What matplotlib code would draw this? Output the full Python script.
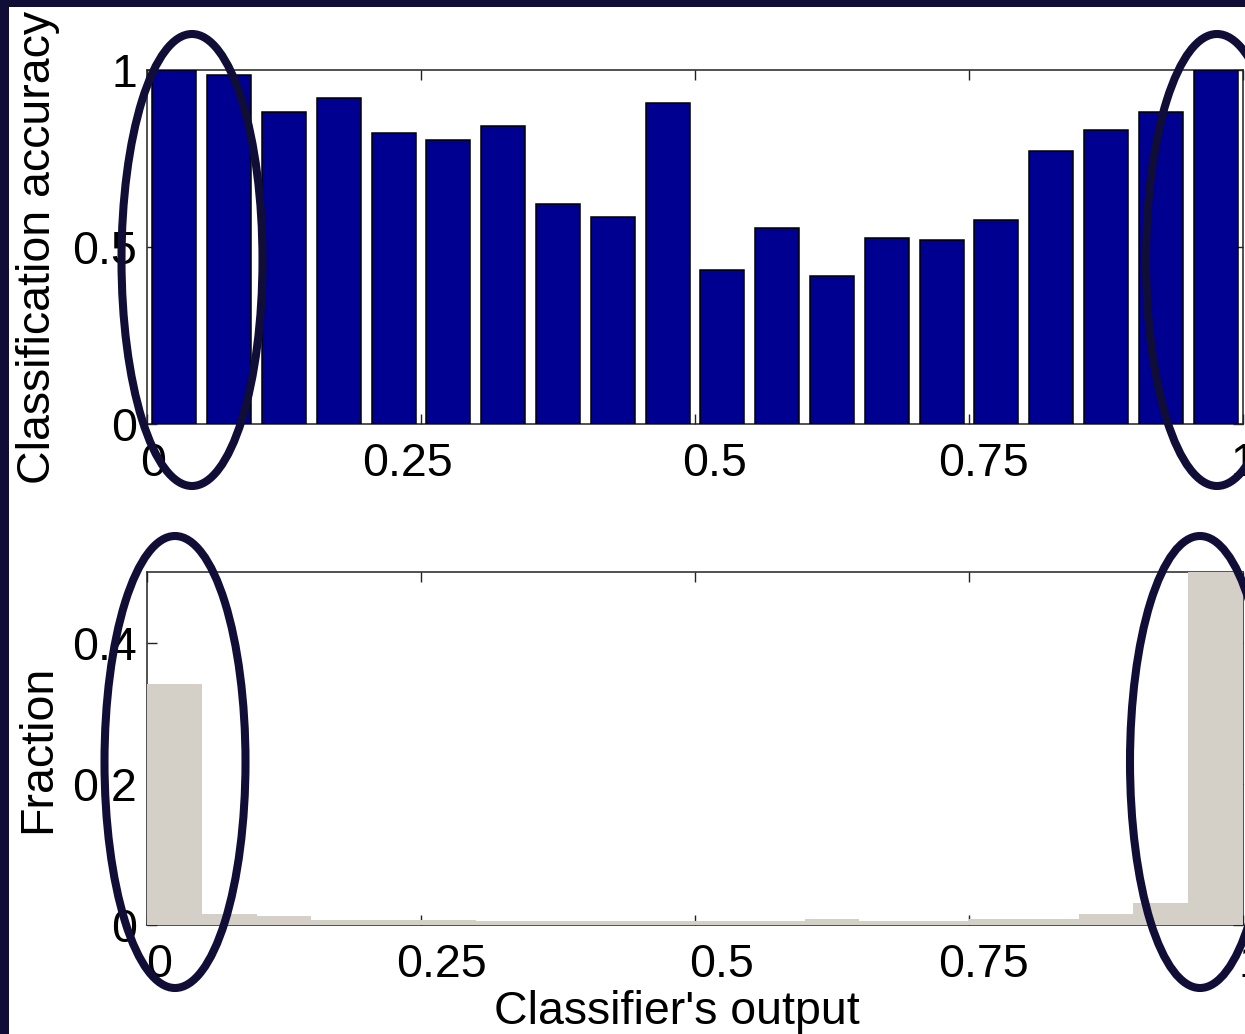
import matplotlib
matplotlib.use("Agg")
from matplotlib import pyplot as plt
from matplotlib.patches import Ellipse, Rectangle
from matplotlib.transforms import ScaledTranslation

plt.rcParams['font.family'] = ['Liberation Sans', 'DejaVu Sans']

# classifier output bins (width 0.05)
bin_centers = [0.025, 0.075, 0.125, 0.175, 0.225, 0.275, 0.325, 0.375, 0.425, 0.475,
               0.525, 0.575, 0.625, 0.675, 0.725, 0.775, 0.825, 0.875, 0.925, 0.975]
accuracy = [1.0, 0.985, 0.88, 0.921, 0.821, 0.802, 0.841, 0.621, 0.586, 0.907,
            0.435, 0.555, 0.419, 0.525, 0.521, 0.575, 0.771, 0.831, 0.88, 1.0]
fraction = [0.342, 0.016, 0.013, 0.0075, 0.0075, 0.0075, 0.0055, 0.0055, 0.0055, 0.0055,
            0.0055, 0.0055, 0.008, 0.006, 0.006, 0.008, 0.008, 0.016, 0.031, 0.5]

x_ticks = [0, 0.25, 0.5, 0.75, 1]
x_tick_labels = ['0', '0.25', '0.5', '0.75', '1']
acc_ticks = [0, 0.5, 1]
acc_tick_labels = ['0', '0.5', '1']
frac_ticks = [0, 0.2, 0.4]
frac_tick_labels = ['0', '0.2', '0.4']

navy = '#000090'
grey = '#d4d0c8'
ink = '#100d36'
fs = 33.5

fig = plt.figure(figsize=(12.45, 10.34), dpi=100, facecolor=ink)
fig.add_artist(Rectangle((9 / 1245, 0), 1, 1 - 7 / 1034, transform=fig.transFigure,
                         facecolor='white', edgecolor='none', zorder=-10))

ax1 = fig.add_axes([147 / 1245, 1 - 424 / 1034, 1096 / 1245, 354 / 1034])
ax2 = fig.add_axes([147 / 1245, 1 - 925 / 1034, 1096 / 1245, 353 / 1034])

ax1.bar(bin_centers, accuracy, width=0.04, color=navy, edgecolor='black',
        linewidth=1.1, zorder=3)
ax2.bar(bin_centers, fraction, width=0.05, color=grey, edgecolor='none', zorder=3)

ax1.set_ylim(0, 1)
ax2.set_ylim(0, 0.5)
ax1.set_yticks(acc_ticks, acc_tick_labels)
ax2.set_yticks(frac_ticks, frac_tick_labels)
ax1.set_ylabel('Classification accuracy', fontsize=fs)
ax2.set_ylabel('Fraction', fontsize=fs)
ax2.set_xlabel("Classifier's output", fontsize=fs)

for ax in (ax1, ax2):
    ax.set_xlim(0, 1)
    ax.set_xticks(x_ticks, x_tick_labels)
    for s in ax.spines.values():
        s.set_color('#222222')
        s.set_linewidth(1.1)
    ax.tick_params(direction='in', length=7, width=1, top=True, right=True,
                   labelsize=fs, colors='#222222', labelcolor='black')
    ax.tick_params(axis='x', pad=13)
    ax.tick_params(axis='y', pad=7)
    ax.yaxis.set_label_coords(-0.0794, 0.5)

ax2.xaxis.set_label_coords(0.4836, -0.185)

# shift the x tick labels a little sideways
top_nudge = [6, -14, 20, 14, 0]
bottom_nudge = [12, 21, 27, 14, 8]
for ax, nudge in ((ax1, top_nudge), (ax2, bottom_nudge)):
    for lab, dx in zip(ax.get_xticklabels(), nudge):
        lab.set_transform(lab.get_transform() + ScaledTranslation(dx / 100, 0, fig.dpi_scale_trans))

# rings around the extreme bins
rings = [(192, 260, 141, 452), (1217, 260, 142, 452),
         (175, 762, 141, 452), (1200, 762, 140, 452)]
for cx, cy, w, h in rings:
    fig.add_artist(Ellipse((cx / 100, (1034 - cy) / 100), w / 100, h / 100,
                           transform=fig.dpi_scale_trans, fill=False,
                           edgecolor=ink, linewidth=5.8, zorder=10))

fig.savefig('out.png', dpi=100, facecolor=ink)
